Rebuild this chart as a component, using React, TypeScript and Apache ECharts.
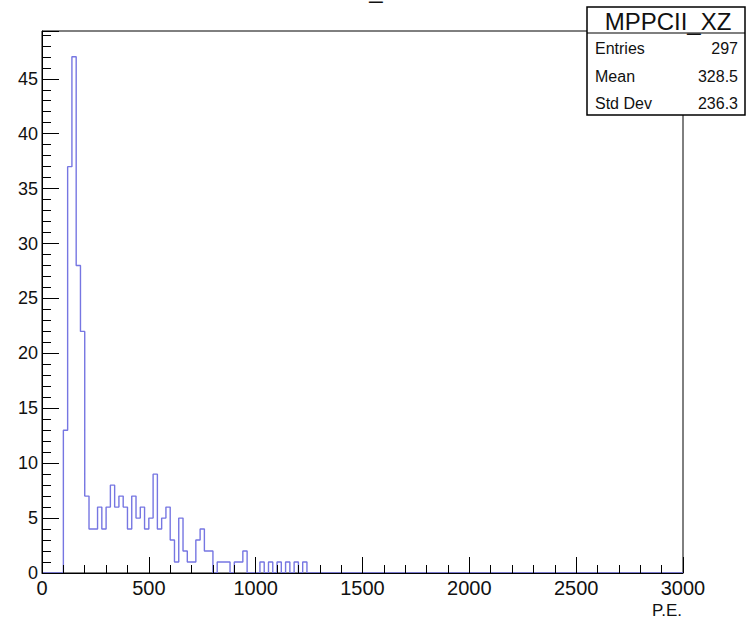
import React, { useEffect, useRef } from "react";
import * as echarts from "echarts";

const HIST_TITLE = "MPPCII_XZ";
const X_NAME = "P.E.";
const FIRST_BIN_LOW = 100;
const BIN_WIDTH = 20;
// bin contents, starting at 100 P.E., 20 P.E. per bin
const counts = [
  13, 37, 47, 28, 22,
  7, 4, 4, 6, 4, 6, 8, 6, 7, 6,
  4, 7, 5, 6, 4, 5, 9, 4, 5, 6,
  3, 1, 5, 2, 1, 1, 3, 4, 2, 2,
  0, 1, 1, 1, 0, 1, 1, 2, 0, 0,
  0, 1, 0, 1, 0, 1, 0, 1, 0, 1, 0, 1,
];
const statLabels = ["Entries", "Mean", "Std Dev"];
const statValues = ["297", "328.5", "236.3"];
const X_MIN = 0;
const X_MAX = 3000;
const X_STEP = 500;
const Y_MIN = 0;
const Y_MAX = 49.35;
const Y_STEP = 5;

const FONT = "'Liberation Sans', Arial, Helvetica, sans-serif";

function buildSteps(): [number, number][] {
  const pts: [number, number][] = [[X_MIN, 0]];
  counts.forEach((c, i) => pts.push([FIRST_BIN_LOW + i * BIN_WIDTH, c]));
  const end = FIRST_BIN_LOW + counts.length * BIN_WIDTH;
  pts.push([end, 0]);
  pts.push([X_MAX, 0]);
  return pts;
}

export default function App() {
  const ref = useRef<HTMLDivElement>(null);
  useEffect(() => {
    if (!ref.current) return;
    const chart = echarts.init(ref.current, null, { renderer: "svg" });
    const boxX = 587;
    const boxY = 7;
    const boxW = 158;
    const boxH = 108;
    const rowYs = [48, 76, 103];
    const statGraphics: any[] = [
      {
        type: "rect",
        shape: { x: boxX, y: boxY, width: boxW, height: boxH },
        style: { fill: "#fff", stroke: "#000", lineWidth: 1.5 },
        z: 10,
      },
      {
        type: "line",
        shape: { x1: boxX, y1: 33, x2: boxX + boxW, y2: 33 },
        style: { stroke: "#000", lineWidth: 1.2 },
        z: 11,
      },
      {
        type: "text",
        x: boxX + boxW / 2 + 2,
        y: 21,
        style: {
          text: HIST_TITLE,
          fill: "#111",
          font: `24px ${FONT}`,
          textAlign: "center",
          textVerticalAlign: "middle",
        },
        z: 11,
      },
    ];
    statLabels.forEach((lab, i) => {
      statGraphics.push({
        type: "text",
        x: boxX + 8,
        y: rowYs[i],
        style: {
          text: lab,
          fill: "#111",
          font: `16px ${FONT}`,
          textAlign: "left",
          textVerticalAlign: "middle",
        },
        z: 11,
      });
      statGraphics.push({
        type: "text",
        x: boxX + boxW - 7,
        y: rowYs[i],
        style: {
          text: statValues[i],
          fill: "#111",
          font: `16px ${FONT}`,
          textAlign: "right",
          textVerticalAlign: "middle",
        },
        z: 11,
      });
    });

    chart.setOption({
      animation: false,
      backgroundColor: "#fff",
      grid: {
        left: 42,
        right: 63,
        top: 31,
        bottom: 49,
        show: true,
        borderColor: "#000",
        borderWidth: 1,
        backgroundColor: "transparent",
      },
      xAxis: {
        type: "value",
        min: X_MIN,
        max: X_MAX,
        interval: X_STEP,
        z: 3,
        axisLine: { show: true, onZero: false, lineStyle: { color: "#000", width: 1 } },
        axisTick: { show: true, inside: true, length: 16, lineStyle: { color: "#000", width: 1 } },
        minorTick: { show: true, splitNumber: 5, length: 8, lineStyle: { color: "#000", width: 1 } },
        splitLine: { show: false },
        axisLabel: {
          show: true,
          margin: 5,
          color: "#111",
          fontSize: 20,
          fontFamily: FONT,
          formatter: (v: number) => String(v),
        },
      },
      yAxis: {
        type: "value",
        min: Y_MIN,
        max: Y_MAX,
        interval: Y_STEP,
        z: 3,
        axisLine: { show: true, lineStyle: { color: "#000", width: 1 } },
        axisTick: { show: true, inside: true, length: 17, lineStyle: { color: "#000", width: 1 } },
        minorTick: { show: true, splitNumber: 5, length: 9, lineStyle: { color: "#000", width: 1 } },
        splitLine: { show: false },
        axisLabel: {
          show: true,
          margin: 4,
          color: "#111",
          fontSize: 18,
          fontFamily: FONT,
          showMaxLabel: false,
          formatter: (v: number) => String(v),
        },
      },
      series: [
        {
          type: "line",
          step: "end",
          symbol: "none",
          data: buildSteps(),
          lineStyle: { color: "#7676e2", width: 1.4 },
          z: 2,
        },
      ],
      graphic: [
        {
          type: "text",
          x: 350,
          y: -23,
          style: {
            text: HIST_TITLE,
            fill: "#111",
            font: `24px ${FONT}`,
            textAlign: "center",
            textVerticalAlign: "top",
          },
        },
        {
          type: "text",
          x: 682,
          y: 610,
          style: {
            text: X_NAME,
            fill: "#111",
            font: `17px ${FONT}`,
            textAlign: "right",
            textVerticalAlign: "middle",
          },
        },
        ...statGraphics,
      ],
    });
    return () => chart.dispose();
  }, []);
  return (
    <div
      ref={ref}
      style={{ position: "absolute", left: 0, top: 0, width: 746, height: 622 }}
    />
  );
}
